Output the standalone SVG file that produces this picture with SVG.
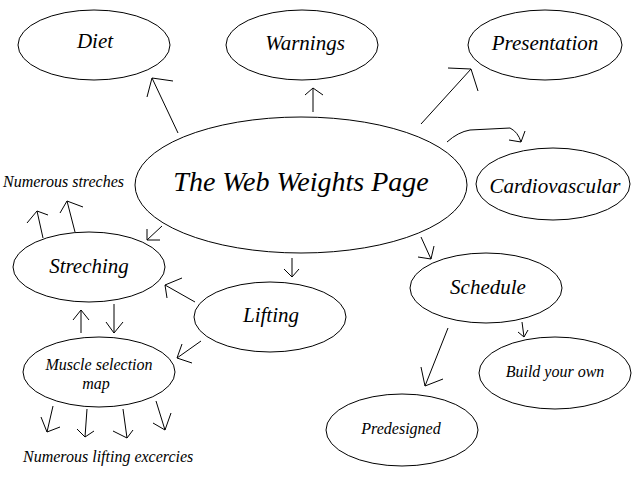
<svg xmlns="http://www.w3.org/2000/svg" width="640" height="480" viewBox="0 0 640 480">
<style>
.n{fill:#fff;stroke:#000;stroke-width:1}
.t{font-family:"Liberation Serif","DejaVu Serif",serif;font-style:italic;font-size:21px;fill:#000;text-anchor:middle}
.s{font-size:16px}
.c path{fill:none;stroke:#000;stroke-width:1}
</style>
<rect width="640" height="480" fill="#fff"/>
<g id="diet"><ellipse class="n" cx="94" cy="45" rx="76" ry="35"/><text class="t" x="95" y="48">Diet</text></g>
<g id="warnings"><ellipse class="n" cx="302" cy="45" rx="76" ry="35"/><text class="t" x="305" y="50">Warnings</text></g>
<g id="presentation"><ellipse class="n" cx="545" cy="45" rx="77" ry="35"/><text class="t" x="545" y="50">Presentation</text></g>
<g id="cardio"><ellipse class="n" cx="553" cy="184" rx="77" ry="36"/><text class="t" x="555" y="193">Cardiovascular</text></g>
<g id="main"><ellipse class="n" cx="301" cy="185" rx="166" ry="68"/><text class="t" x="301" y="191" style="font-size:28px">The Web Weights Page</text></g>
<g id="streches-label"><text class="t s" x="3" y="187" style="text-anchor:start">Numerous streches</text></g>
<g id="streching"><ellipse class="n" cx="89" cy="267" rx="76" ry="35"/><text class="t" x="89" y="273">Streching</text></g>
<g id="lifting"><ellipse class="n" cx="270" cy="317" rx="76" ry="35"/><text class="t" x="271" y="322">Lifting</text></g>
<g id="muscle"><ellipse class="n" cx="99" cy="372" rx="76" ry="35"/><text class="t s" x="99" y="370">Muscle selection</text><text class="t s" x="96" y="389">map</text></g>
<g id="lifting-label"><text class="t s" x="23" y="462" style="text-anchor:start">Numerous lifting excercies</text></g>
<g id="schedule"><ellipse class="n" cx="486" cy="288" rx="76" ry="35"/><text class="t" x="488" y="294">Schedule</text></g>
<g id="build"><ellipse class="n" cx="555" cy="373" rx="76" ry="36"/><text class="t s" x="555" y="377">Build your own</text></g>
<g id="predesigned"><ellipse class="n" cx="402" cy="430" rx="76" ry="36"/><text class="t s" x="401" y="434">Predesigned</text></g>
<g id="connectors" class="c">
<path d="M178,133 L152,78 M147,97 L152,78 L173,81"/>
<path d="M313,112 L313,88 M305,95 L313,88 L323,95"/>
<path d="M421,124 L471,69 M448,68 L471,69 L478,91"/>
<path d="M447,142 Q458,132 470,130 L510,128 Q518,132 521,142 M509,140 L521,142 L525,131"/>
<path d="M43,238 L37,211 M27,223 L37,211 L48,215"/>
<path d="M75,232 L67,201 M60,213 L67,201 L83,207"/>
<path d="M162,226 L147,240 M147,229 L147,240 L160,240"/>
<path d="M292,258 L292,277 M284,269 L292,277 L299,269"/>
<path d="M195,302 L165,285 M167,298 L165,285 L182,278"/>
<path d="M201,341 L177,358 M182,344 L177,358 L192,363"/>
<path d="M81,333 L81,310 M73,320 L81,310 L89,320"/>
<path d="M114,304 L114,333 M106,322 L114,333 L123,322"/>
<path d="M53,406 L47,432 M41,417 L47,432 L60,427"/>
<path d="M87,409 L85,437 M77,429 L85,437 L94,431"/>
<path d="M123,409 L127,438 M113,431 L127,438 L133,430"/>
<path d="M156,401 L165,430 M153,423 L165,430 L171,413"/>
<path d="M421,237 L431,259 M418,257 L431,259 L434,246"/>
<path d="M522,322 L524,337 M518,332 L524,337 L528,330"/>
<path d="M448,328 L425,386 M421,367 L425,386 L443,379"/>
</g>
</svg>
